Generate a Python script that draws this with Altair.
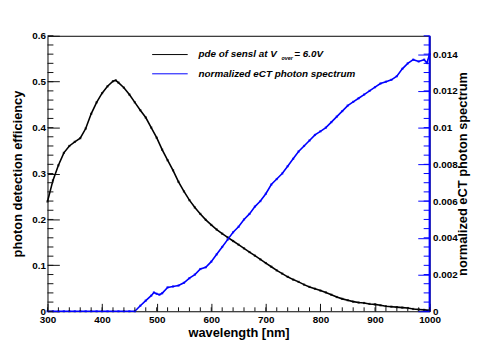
import altair as alt
import pandas as pd

# ---- data ----
pde_wl = [300, 310, 320, 330, 340, 350, 360, 370, 380, 390, 400, 410, 420, 425, 430,
          440, 450, 460, 470, 480, 490, 500, 510, 520, 530, 540, 550, 560, 570, 580,
          590, 600, 610, 620, 630, 640, 650, 660, 670, 680, 690, 700, 710, 720, 730,
          740, 750, 760, 770, 780, 790, 800, 810, 820, 830, 840, 850, 860, 870, 880,
          890, 900, 910, 920, 930, 940, 950, 960, 970, 980, 990, 1000]
pde_val = [0.239, 0.285, 0.318, 0.345, 0.360, 0.369, 0.377, 0.398, 0.430, 0.455, 0.475,
           0.490, 0.501, 0.503, 0.498, 0.487, 0.472, 0.455, 0.438, 0.422, 0.400, 0.378,
           0.352, 0.329, 0.307, 0.282, 0.261, 0.242, 0.226, 0.212, 0.199, 0.188, 0.178,
           0.169, 0.161, 0.153, 0.145, 0.137, 0.129, 0.121, 0.113, 0.105, 0.097, 0.089,
           0.082, 0.075, 0.069, 0.064, 0.058, 0.053, 0.049, 0.045, 0.041, 0.036, 0.031,
           0.027, 0.024, 0.021, 0.019, 0.018, 0.016, 0.015, 0.013, 0.011, 0.010, 0.009,
           0.008, 0.007, 0.005, 0.004, 0.003, 0.002]

spec_wl = [300, 310, 320, 330, 340, 350, 360, 370, 380, 390, 400, 410, 420, 430, 440,
           450, 460, 470, 480, 490, 495, 500, 505, 510, 520, 530, 540, 550, 560, 570,
           580, 590, 600, 610, 620, 630, 640, 650, 660, 670, 680, 690, 700, 710, 720,
           730, 740, 750, 760, 770, 780, 790, 800, 810, 820, 830, 840, 850, 860, 870,
           880, 890, 900, 910, 920, 930, 940, 950, 960, 970, 980, 990, 995, 1000]
spec_val = [0, 0, 0, 0, 0, 0, 0, 0, 0, 0, 0, 0, 0, 0, 0,
            0, 0, 0.0003, 0.00058, 0.00085, 0.00102, 0.00095, 0.0009, 0.00098, 0.0013,
            0.00135, 0.0014, 0.00155, 0.0018, 0.0020, 0.0023, 0.0024, 0.0027, 0.0031,
            0.0035, 0.0039, 0.0043, 0.0046, 0.0050, 0.0053, 0.0057, 0.0060, 0.0064,
            0.0069, 0.0072, 0.0075, 0.0079, 0.0083, 0.0087, 0.0090, 0.0093, 0.0096,
            0.0098, 0.0100, 0.0103, 0.0106, 0.0109, 0.0112, 0.0114, 0.0116, 0.0118,
            0.0120, 0.0122, 0.0124, 0.0125, 0.0126, 0.0128, 0.0132, 0.0135, 0.0137,
            0.0136, 0.0137, 0.01352, 0.0140]

x_major = [300, 400, 500, 600, 700, 800, 900, 1000]
x_minor = list(range(300, 1001, 20))
yl_major = [0, 0.1, 0.2, 0.3, 0.4, 0.5, 0.6]
yl_minor = [round(i * 0.02, 2) for i in range(31)]
yr_major = [0, 0.002, 0.004, 0.006, 0.008, 0.01, 0.012, 0.014]
yr_minor = [round(i * 0.0005, 4) for i in range(31)]

legend_labels = ["pde of sensl at V", "normalized eCT photon spectrum"]
legend_sub = ["over", "= 6.0V"]

pde = pd.DataFrame({"wl": pde_wl, "v": pde_val})
spec = pd.DataFrame({"wl": spec_wl, "v": spec_val})

W, H = 387, 279
FONT = "Liberation Sans"
BLUE = "#0000ff"
TICK_K = "#111111"
TICK_B = "#0000fe"
xs = alt.Scale(domain=[300, 1000], nice=False, zero=False)
yls = alt.Scale(domain=[0, 0.6], nice=False, zero=False)
yrs = alt.Scale(domain=[0, 0.015], nice=False, zero=False)

lab = dict(labelFont=FONT, labelFontSize=10, labelFontWeight="bold", labelColor="black")
ttl = dict(titleFont=FONT, titleFontSize=13, titleFontWeight="bold", titleColor="black",
           titleAlign="center", titleBaseline="middle")

# black pde curve: one left and one bottom axis, ticks pulled inside the frame
pde_line = alt.Chart(pde).mark_line(color="black", strokeWidth=1.6).encode(
    x=alt.X("wl:Q", scale=xs, axis=alt.Axis(
        orient="bottom", values=x_major, tickSize=8, offset=-8, tickColor=TICK_K,
        domain=False, labelPadding=3, labelFlush=False, format="d", grid=False,
        title="wavelength [nm]", titleX=W / 2, titleY=30, **lab, **ttl)),
    y=alt.Y("v:Q", scale=yls, axis=alt.Axis(
        orient="left", values=yl_major, tickSize=12, offset=-12, tickColor=TICK_K,
        domain=False, labelPadding=2, format="~g", grid=False,
        title="photon detection efficiency", titleX=-42, titleY=H / 2, titleAngle=270,
        **lab, **ttl)),
)
pde_pts = alt.Chart(pde).mark_square(color="black", size=5).encode(
    x=alt.X("wl:Q", scale=xs, axis=None),
    y=alt.Y("v:Q", scale=yls, axis=None),
)

spec_line = alt.Chart(spec).mark_line(color=BLUE, strokeWidth=1.6).encode(
    x=alt.X("wl:Q", scale=xs, axis=None),
    y=alt.Y("v:Q", scale=yrs, axis=alt.Axis(
        orient="right", values=yr_major, tickSize=12, offset=-12, tickColor=TICK_B,
        domain=False, labelPadding=3, format="~g", grid=False,
        title="normalized eCT photon spectrum", titleX=45, titleY=H / 2, titleAngle=270,
        **lab, **ttl)),
)
spec_pts = alt.Chart(spec).mark_square(color=BLUE, size=5).encode(
    x=alt.X("wl:Q", scale=xs, axis=None),
    y=alt.Y("v:Q", scale=yrs, axis=None),
)

# blue right-hand edge of the frame
edge = alt.Chart(pd.DataFrame({"label": ["edge"]})).mark_rule(color=BLUE, strokeWidth=2).encode(
    x=alt.value(W), y=alt.value(0), y2=alt.value(H))

# minor ticks, placed through the scales from the tick-value lists
def yticks(vals, scale, color, x0, x1):
    return alt.Chart(pd.DataFrame({"tick": vals})).mark_rule(color=color, strokeWidth=1).encode(
        y=alt.Y("tick:Q", scale=scale, axis=None), x=alt.value(x0), x2=alt.value(x1))

def xticks(vals, length):
    return alt.Chart(pd.DataFrame({"tick": vals})).mark_rule(color=TICK_K, strokeWidth=1).encode(
        x=alt.X("tick:Q", scale=xs, axis=None), y=alt.value(H), y2=alt.value(H - length))

tk_l_minor = yticks(yl_minor, yls, TICK_K, 0, 6)
tk_r_minor = yticks(yr_minor, yrs, TICK_B, W - 6, W)
tk_b_minor = xticks(x_minor, 4)

# legend drawn inside the frame
leg1 = pd.DataFrame({"label": [legend_labels[0]]})
leg2 = pd.DataFrame({"label": [legend_labels[1]]})
r1 = alt.Chart(leg1).mark_rule(color="black", strokeWidth=1).encode(
    x=alt.value(106), x2=alt.value(142), y=alt.value(19))
r2 = alt.Chart(leg2).mark_rule(color=BLUE, strokeWidth=1).encode(
    x=alt.value(106), x2=alt.value(142), y=alt.value(38.5))
tstyle = dict(font=FONT, fontWeight="bold", fontStyle="italic", color="black",
              align="left", baseline="middle")
t1 = alt.Chart(leg1).mark_text(fontSize=10, **tstyle).encode(
    x=alt.value(153), y=alt.value(18.5), text="label:N")
t1s = alt.Chart(pd.DataFrame({"label": [legend_sub[0]]})).mark_text(fontSize=5.5, **tstyle).encode(
    x=alt.value(237), y=alt.value(23), text="label:N")
t1b = alt.Chart(pd.DataFrame({"label": [legend_sub[1]]})).mark_text(fontSize=10, **tstyle).encode(
    x=alt.value(250), y=alt.value(18.5), text="label:N")
t2 = alt.Chart(leg2).mark_text(fontSize=10, **tstyle).encode(
    x=alt.value(153), y=alt.value(38.5), text="label:N")

chart = alt.layer(
    pde_line, pde_pts, spec_line, spec_pts, edge,
    tk_l_minor, tk_r_minor, tk_b_minor,
    r1, r2, t1, t1s, t1b, t2,
).resolve_scale(y="independent").resolve_axis(x="independent", y="independent").properties(
    width=W, height=H,
    autosize=alt.AutoSizeParams(type="none"),
    padding={"left": 40, "top": 26, "right": 48, "bottom": 30},
    background="white",
).configure_view(stroke="black", strokeWidth=1)

chart.save("out.html", embed_options={"renderer": "svg", "actions": False})
